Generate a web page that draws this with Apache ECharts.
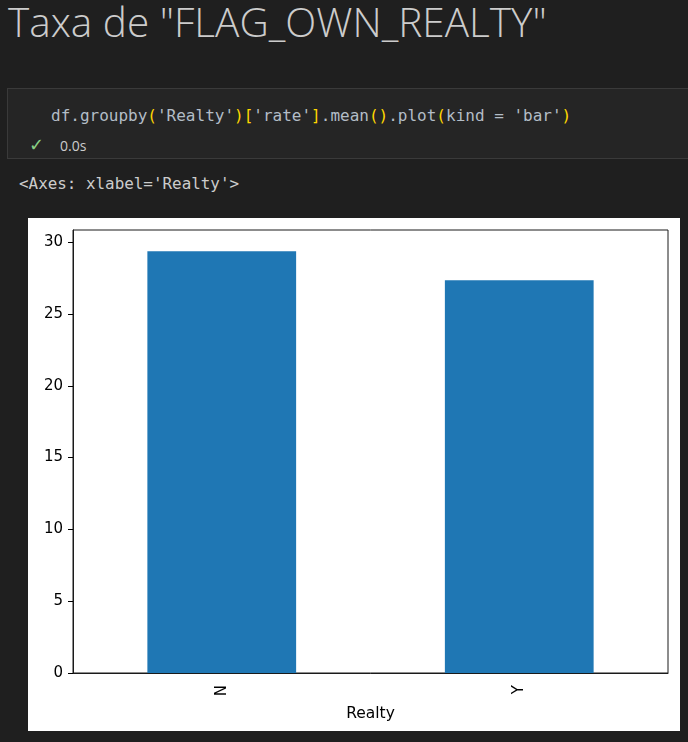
<!DOCTYPE html>
<html>
<head>
<meta charset="utf-8">
<title>Taxa de FLAG_OWN_REALTY</title>
<script src="https://cdn.jsdelivr.net/npm/echarts@6/dist/echarts.min.js"></script>
<style>
html, body { margin: 0; padding: 0; }
body { width: 688px; height: 742px; background: #1f1f1f; position: relative; overflow: hidden; }
.title { position: absolute; left: 8px; top: -6px; color: #cccccc; font-family: "Open Sans", "Noto Sans", sans-serif; font-weight: 300; font-size: 40.5px; white-space: nowrap; }
.cell { position: absolute; left: 7px; top: 88px; width: 690px; height: 69px; background: #252525; border: 1px solid #3a3a3a; }
.code { position: absolute; left: 51px; top: 106px; color: #b3bdc7; font-family: "DejaVu Sans Mono", monospace; font-size: 16px; white-space: pre; }
.code .p { color: #ffd700; }
.status { position: absolute; left: 29px; top: 134px; color: #89d185; font-family: "DejaVu Sans", sans-serif; font-size: 18px; }
.time { position: absolute; left: 60px; top: 136px; color: #cccccc; font-family: "Open Sans", sans-serif; font-size: 14px; }
.out { position: absolute; left: 19px; top: 174px; color: #cccccc; font-family: "DejaVu Sans Mono", monospace; font-size: 15.9px; white-space: pre; }
#chart { position: absolute; left: 28px; top: 218px; width: 652px; height: 513px; background: #ffffff; }
</style>
</head>
<body>

<div class="title">Taxa de "FLAG_OWN_REALTY"</div>
<div class="cell"></div>
<div class="code">df.groupby<span class="p">(</span>'Realty'<span class="p">)</span><span class="p">[</span>'rate'<span class="p">]</span>.mean<span class="p">()</span>.plot<span class="p">(</span>kind = 'bar'<span class="p">)</span></div>
<div class="status">✓</div>
<div class="time">0.0s</div>
<div class="out">&lt;Axes: xlabel='Realty'&gt;</div>
<div id="chart"></div>

<script>
// dados
var categorias = ['N', 'Y'];
var taxas = [29.37, 27.35];
var yTicks = [0, 5, 10, 15, 20, 25, 30];

var chart = echarts.init(document.getElementById('chart'));

chart.setOption({
    animation: false,
    textStyle: { fontFamily: 'DejaVu Sans' },
    grid: {
        left: 45, right: 12, top: 12, bottom: 58,
        show: true, borderColor: '#1a1a1a', borderWidth: 1
    },
    xAxis: {
        type: 'category',
        data: categorias,
        name: 'Realty',
        nameLocation: 'middle',
        nameGap: 33,
        nameTextStyle: { color: '#000', fontSize: 15.5, fontFamily: 'DejaVu Sans' },
        axisLine: { lineStyle: { color: '#1a1a1a', width: 1 } },
        axisTick: { alignWithLabel: true, length: 5, lineStyle: { color: '#000' } },
        axisLabel: { rotate: 90, color: '#000', fontSize: 15, margin: 12 }
    },
    yAxis: {
        type: 'value',
        min: 0,
        max: 30.85,
        interval: 5,
        splitLine: { show: false },
        axisLine: { show: true, lineStyle: { color: '#1a1a1a', width: 1 } },
        axisTick: { show: true, length: 5, customValues: yTicks, lineStyle: { color: '#000' } },
        axisLabel: { color: '#000', fontSize: 15, margin: 10, customValues: yTicks }
    },
    series: [{
        type: 'bar',
        data: taxas,
        barWidth: '50%',
        itemStyle: { color: '#1f77b4' }
    }]
});
</script>
</body>
</html>
